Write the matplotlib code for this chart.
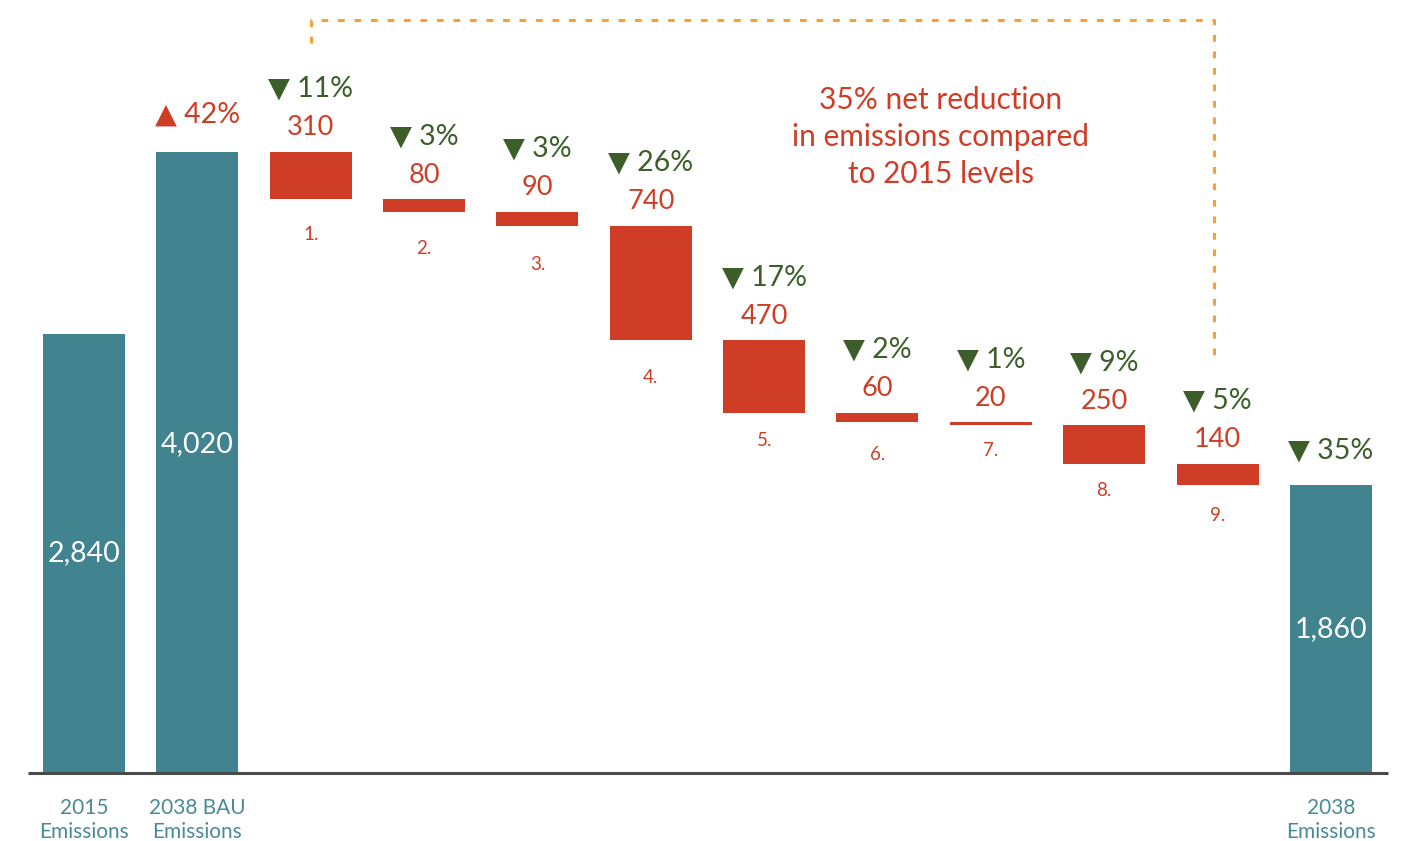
import matplotlib.pyplot as plt
import numpy as np

plt.rcParams['font.family'] = ['Lato', 'DejaVu Sans']

# data
categories = ['2015\nEmissions', '2038 BAU\nEmissions',
              '1.', '2.', '3.', '4.', '5.', '6.', '7.', '8.', '9.',
              '2038\nEmissions']
emissions_2015 = 2840
emissions_bau = 4020
emissions_2038 = 1860
reductions = [310, 80, 90, 740, 470, 60, 20, 250, 140]
reduction_pct = [11, 3, 3, 26, 17, 2, 1, 9, 5]
bau_change_pct = 42
net_change_pct = 35

TEAL = '#41838F'
RED = '#CF3D26'
GREEN = '#3D5E2A'
ORANGE = '#F7A035'
LABEL_TEAL = '#4A8A96'

fig = plt.figure(figsize=(14.04, 8.41), dpi=100)
ax = fig.add_axes([0, 68 / 841, 1, 773 / 841])
ax.set_xlim(-0.741, 11.645)
ax.set_ylim(0, 5000)
ax.axis('off')

x = np.arange(len(categories))
w = 0.723

# total bars
totals_x = [0, 1, 11]
totals_y = [emissions_2015, emissions_bau, emissions_2038]
ax.bar(totals_x, totals_y, width=w, color=TEAL, zorder=2)
label_frac = [0.5, 0.53, 0.5]
for xi, yi, fr in zip(totals_x, totals_y, label_frac):
    ax.text(xi, yi * fr, f'{yi:,}', color='white', fontsize=20.5,
            ha='center', va='center')

# reduction bars
tops = emissions_bau - np.concatenate([[0], np.cumsum(reductions)[:-1]])
bottoms = tops - np.array(reductions)
red_x = x[2:11]
ax.bar(red_x, reductions, bottom=bottoms, width=w, color=RED, zorder=2)

num_offsets = [-35, -37, -39, -37, -28, -32, -25, -27, -30]
for xi, top, bot, val, pct, name, off in zip(red_x, tops, bottoms, reductions,
                                              reduction_pct, categories[2:11],
                                              num_offsets):
    ax.annotate(f'{val}', (xi, top), xytext=(0, 24), textcoords='offset pixels',
                ha='center', va='center', color=RED, fontsize=19.5)
    ax.annotate(f'▼ {pct}%', (xi, top), xytext=(0, 63), textcoords='offset pixels',
                ha='center', va='center', color=GREEN, fontsize=20.5)
    ax.annotate(name, (xi, bot), xytext=(0, off), textcoords='offset pixels',
                ha='center', va='center', color=RED, fontsize=13.5)

ax.annotate(f'▲ {bau_change_pct}%', (1, emissions_bau), xytext=(0, 37),
            textcoords='offset pixels', ha='center', va='center',
            color=RED, fontsize=20.5)
ax.annotate(f'▼ {net_change_pct}%', (11, emissions_2038), xytext=(0, 35),
            textcoords='offset pixels', ha='center', va='center',
            color=GREEN, fontsize=20.5)

# category labels under baseline
for xi in totals_x:
    ax.annotate(categories[xi], (xi, 0), xytext=(0, -47),
                textcoords='offset pixels', ha='center', va='center',
                color=LABEL_TEAL, fontsize=15, linespacing=1.3,
                annotation_clip=False)

# baseline
ax.plot([-0.494, 11.504], [0, 0], color='#4a4a4a', lw=2.2, zorder=3,
        clip_on=False, solid_capstyle='butt')

# bracket showing net reduction
ax.plot([2, 2, 9.97, 9.97], [4722, 4871, 4871, 2704], color=ORANGE,
        lw=2.2, linestyle=(0, (2.2, 3.2)), zorder=1)
ax.text(7.56, 4112, '35% net reduction\nin emissions compared\nto 2015 levels',
        ha='center', va='center', color=RED, fontsize=21.5, linespacing=1.4)

fig.savefig('out.png', dpi=100)
